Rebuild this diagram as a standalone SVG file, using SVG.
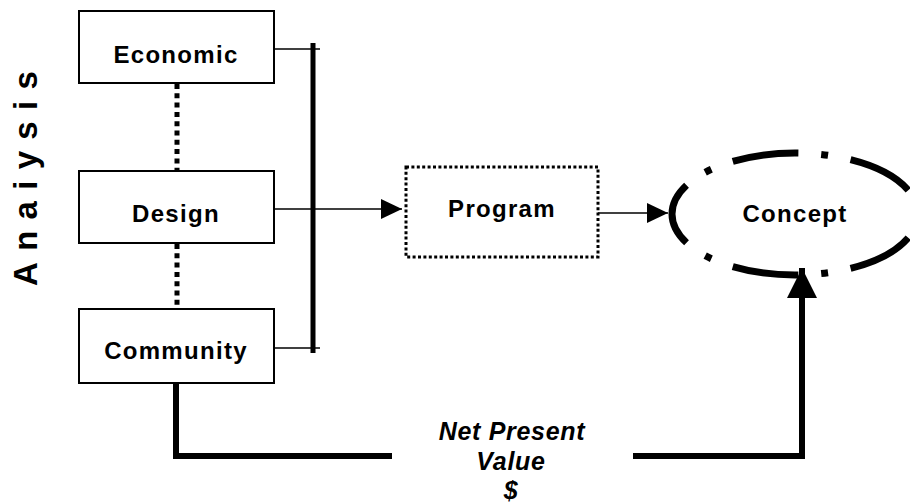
<svg xmlns="http://www.w3.org/2000/svg" width="910" height="504" viewBox="0 0 910 504">
<style>
.box{fill:#fff;stroke:#000;stroke-width:2}
.lbl{font-family:"Liberation Sans",Arial,sans-serif;font-weight:bold;font-size:24px;letter-spacing:1.3px;text-anchor:middle;fill:#000}
.npv{font-family:"Liberation Sans",Arial,sans-serif;font-weight:bold;font-style:italic;font-size:25px;letter-spacing:0.7px;text-anchor:middle;fill:#000}
.thin{fill:none;stroke:#000;stroke-width:1.6}
.thick{fill:none;stroke:#000;stroke-width:6}
.dots{fill:none;stroke:#000;stroke-width:5;stroke-dasharray:5 4.3}
</style>
<defs>
<marker id="ah" markerUnits="userSpaceOnUse" markerWidth="22" markerHeight="22" refX="21" refY="10" orient="auto">
<path d="M0,0 L21,10 L0,20 Z" fill="#000"/>
</marker>
<marker id="ahb" markerUnits="userSpaceOnUse" markerWidth="32" markerHeight="32" refX="30" refY="15" orient="auto">
<path d="M0,0 L30,15 L0,30 Z" fill="#000"/>
</marker>
</defs>
<rect width="910" height="504" fill="#fff"/>
<text transform="translate(37,286) rotate(-90)" font-family="'Liberation Sans',Arial,sans-serif" font-weight="bold" font-size="33" letter-spacing="11.3" fill="#000">Anaiysis</text>
<g id="connectors">
<line class="dots" x1="177" y1="84" x2="177" y2="171"/>
<line class="dots" x1="177" y1="244" x2="177" y2="309"/>
<line class="thin" x1="274" y1="49" x2="320" y2="49"/>
<line class="thin" x1="274" y1="348" x2="320" y2="348"/>
<line x1="313" y1="43" x2="313" y2="353" stroke="#000" stroke-width="5"/>
<line class="thin" x1="274" y1="209" x2="402" y2="209" marker-end="url(#ah)"/>
<line class="thin" x1="598" y1="213" x2="668" y2="213" marker-end="url(#ah)"/>
<path class="thick" d="M176,383 V456 H392"/>
<path class="thick" d="M633,456 H802 V268" marker-end="url(#ahb)"/>
</g>
<g id="economic">
<rect class="box" x="79" y="11" width="195" height="72"/>
<text class="lbl" x="176" y="63">Economic</text>
</g>
<g id="design">
<rect class="box" x="79" y="171" width="195" height="72"/>
<text class="lbl" x="176" y="222">Design</text>
</g>
<g id="community">
<rect class="box" x="79" y="309" width="195" height="74"/>
<text class="lbl" x="176" y="359">Community</text>
</g>
<g id="program">
<rect x="406" y="167" width="192" height="90" fill="#fff" stroke="#000" stroke-width="3" stroke-dasharray="3 2.4"/>
<text class="lbl" x="502" y="217">Program</text>
</g>
<g id="concept">
<path d="M918,214 A123,61 0 0 0 672,214 A123,61 0 0 0 918,214" fill="none" stroke="#000" stroke-width="7" pathLength="600" stroke-dasharray="7 23 67 23" stroke-dashoffset="3.5"/>
<text class="lbl" x="795" y="222">Concept</text>
</g>
<g id="npv">
<text class="npv" x="512" y="440">Net Present</text>
<text class="npv" x="511" y="470">Value</text>
<text class="npv" x="511" y="499">$</text>
</g>
</svg>
